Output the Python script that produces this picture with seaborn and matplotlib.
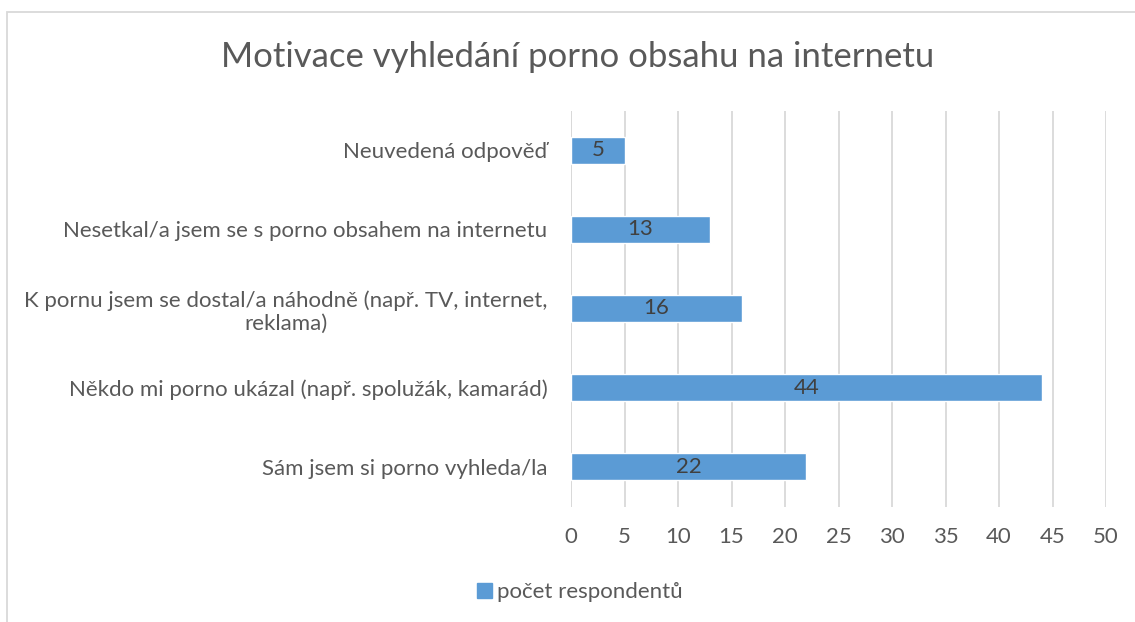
import matplotlib
matplotlib.use("Agg")
import matplotlib.pyplot as plt
import seaborn as sns
import pandas as pd
from matplotlib.patches import Rectangle, Patch

categories = [
    "Neuvedená odpověď",
    "Nesetkal/a jsem se s porno obsahem na internetu",
    "K pornu jsem se dostal/a náhodně (např. TV, internet,\nreklama)",
    "Někdo mi porno ukázal (např. spolužák, kamarád)",
    "Sám jsem si porno vyhleda/la",
]
values = [5, 13, 16, 44, 22]
series_name = "počet respondentů"
title = "Motivace vyhledání porno obsahu na internetu"
xticks = [0, 5, 10, 15, 20, 25, 30, 35, 40, 45, 50]

sns.set_theme(style="white")
plt.rcParams['font.family'] = ['Lato', 'DejaVu Sans']

TXT = "#595959"
BAR = "#5B9BD5"
GRID = "#D9D9D9"

df = pd.DataFrame({"cat": categories, "val": values})

fig = plt.figure(figsize=(11.35, 6.22), dpi=100)
ax = fig.add_axes([571/1135, 1-506.5/622, (1106-571)/1135, (506.5-110.5)/622])

sns.barplot(data=df, y="cat", x="val", orient="h", color=BAR, width=0.34,
            saturation=1, ax=ax, zorder=3)

ax.set_xlim(0, 50)
ax.set_xticks(xticks)
ax.set_xticklabels([str(t) for t in xticks], fontsize=16, color=TXT)
ax.tick_params(axis='x', length=0, pad=15)
ax.tick_params(axis='y', length=0, pad=17)
for lbl in ax.get_yticklabels():
    lbl.set_fontsize(16)
    lbl.set_color(TXT)
    lbl.set_multialignment('center')
    lbl.set_linespacing(1.2)
ax.set_xlabel("")
ax.set_ylabel("")
ax.grid(axis='x', color=GRID, linewidth=1.3, zorder=0)
ax.grid(axis='y', visible=False)
for s in ax.spines.values():
    s.set_visible(False)
ax.axvline(0, color=GRID, linewidth=1.3, zorder=1)

for p, v in zip(ax.patches, values):
    ax.text(p.get_x() + p.get_width()/2, p.get_y() + p.get_height()/2, str(v),
            ha='center', va='center', fontsize=16, color="#404040", zorder=4)

fig.text(578/1135, 1-57/622, title, ha='center', va='center', fontsize=25, color=TXT)

fig.legend(handles=[Patch(facecolor=BAR, edgecolor=BAR)], labels=[series_name],
           loc='center', bbox_to_anchor=(580/1135, 1-592/622), frameon=False,
           fontsize=16, labelcolor=TXT, handlelength=0.65, handleheight=0.65,
           handletextpad=0.25)

fig.patches.append(Rectangle((7/1135, -0.1), 1.2, 1-12/622+0.1, transform=fig.transFigure,
                             fill=False, edgecolor=GRID, linewidth=1.3))

fig.savefig("out.png", dpi=100)
